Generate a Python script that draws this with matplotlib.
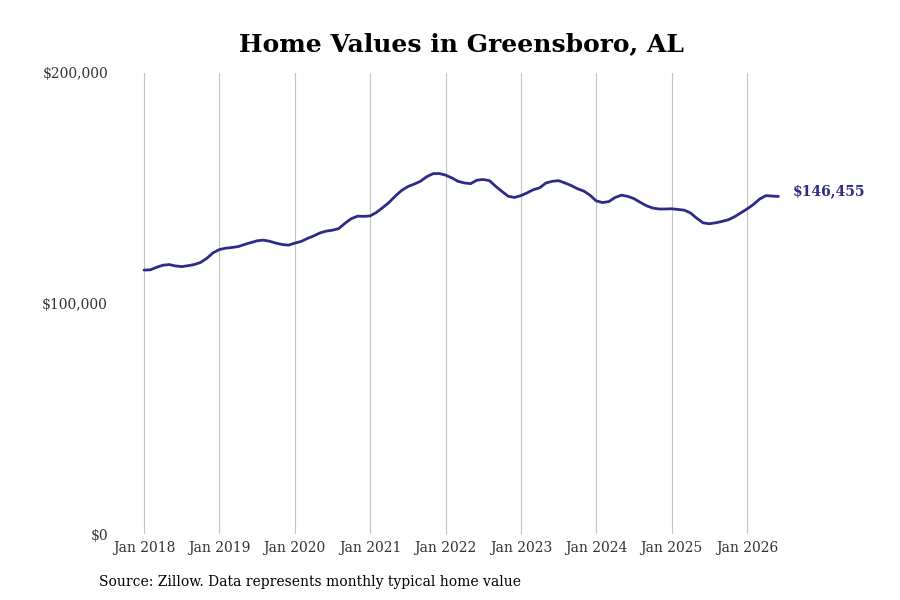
import matplotlib
matplotlib.use("Agg")
import matplotlib.pyplot as plt
from matplotlib.ticker import FuncFormatter

# Monthly typical home values (thousands USD), Jan 2018 .. Jun 2026
values_2018 = [114.5, 114.6, 115.7, 116.6, 116.9, 116.3, 116.0, 116.4, 116.9, 117.8, 119.6, 122.0]
values_2019 = [123.4, 124.0, 124.3, 124.7, 125.6, 126.4, 127.2, 127.5, 127.0, 126.2, 125.6, 125.3]
values_2020 = [126.2, 126.9, 128.2, 129.3, 130.6, 131.4, 131.8, 132.5, 134.8, 136.8, 137.9, 137.8]
values_2021 = [138.0, 139.5, 141.6, 143.8, 146.6, 149.0, 150.7, 151.8, 153.0, 155.0, 156.3, 156.4]
values_2022 = [155.7, 154.5, 153.0, 152.3, 152.0, 153.5, 153.8, 153.3, 150.8, 148.6, 146.5, 146.0]
values_2023 = [146.8, 148.0, 149.4, 150.2, 152.3, 153.0, 153.3, 152.3, 151.2, 149.8, 148.8, 147.0]
values_2024 = [144.5, 143.8, 144.2, 146.0, 147.0, 146.5, 145.5, 143.9, 142.4, 141.4, 141.0, 141.0]
values_2025 = [141.1, 140.8, 140.5, 139.3, 137.0, 135.0, 134.6, 135.0, 135.6, 136.3, 137.6, 139.3]
values_2026 = [141.0, 142.9, 145.3, 146.8, 146.6, 146.455]

tick_labels = ["Jan 2018", "Jan 2019", "Jan 2020", "Jan 2021", "Jan 2022",
               "Jan 2023", "Jan 2024", "Jan 2025", "Jan 2026"]
y_ticks = [0, 100000, 200000]
last_label = "$146,455"
title = "Home Values in Greensboro, AL"
source = "Source: Zillow. Data represents monthly typical home value"

values_k = (values_2018 + values_2019 + values_2020 + values_2021 + values_2022
            + values_2023 + values_2024 + values_2025 + values_2026)
values = [v * 1000 for v in values_k]
months = list(range(len(values)))
tick_pos = [12 * i for i in range(len(tick_labels))]

plt.rcParams['font.family'] = ['DejaVu Serif']
line_color = "#2E2B88"

fig = plt.figure(figsize=(9, 6), dpi=100)
W, H = 900, 600
ax_left, ax_right = 115, 870
ax_bottom, ax_top = 534, 73
ax = fig.add_axes([ax_left / W, 1 - ax_bottom / H, (ax_right - ax_left) / W, (ax_bottom - ax_top) / H])

px_per_month = (747 - 144) / 96.0
x0 = -(144 - ax_left) / px_per_month
x1 = 96 + (ax_right - 747) / px_per_month
ax.set_xlim(x0, x1)
ax.set_ylim(0, 200000)

ax.plot(months, values, color=line_color, lw=2.0, solid_capstyle='round', zorder=3)

ax.set_xticks(tick_pos)
ax.set_xticklabels(tick_labels)
ax.set_yticks(y_ticks)
ax.yaxis.set_major_formatter(FuncFormatter(lambda v, p: f"${v:,.0f}"))
ax.tick_params(axis='both', length=0, labelsize=10, colors="#333333")
ax.tick_params(axis='x', pad=5)
ax.tick_params(axis='y', pad=5)
ax.grid(axis='x', color="#c4c4c4", lw=0.8)
ax.grid(axis='y', visible=False)
for s in ax.spines.values():
    s.set_visible(False)

ax.annotate(last_label, xy=(months[-1], values[-1]), xytext=(14, 5),
            textcoords='offset pixels', va='center', ha='left',
            fontsize=10, fontweight='bold', color=line_color)

fig.text(0.5 * (240 + 683) / W, 1 - 44 / H, title, ha='center', va='center',
         fontsize=18, fontweight='bold', color='black')
fig.text(99 / W, 1 - 582 / H, source, ha='left', va='center', fontsize=10, color='black')

fig.savefig("out.png", dpi=100)
